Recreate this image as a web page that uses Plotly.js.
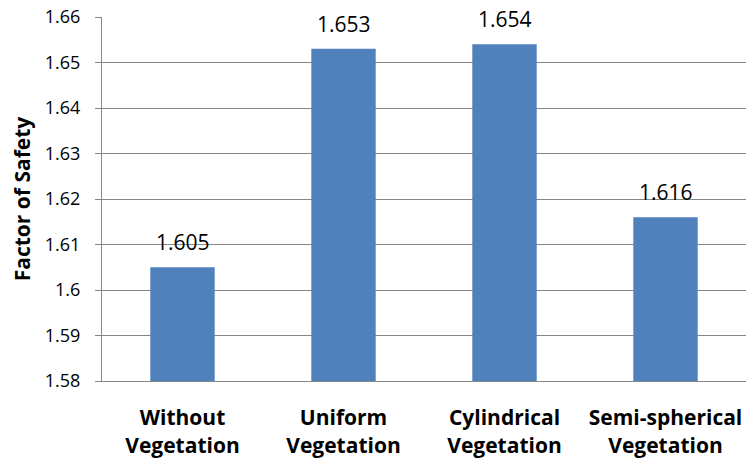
<!DOCTYPE html>
<html>
<head>
<meta charset="utf-8">
<script src="https://cdn.plot.ly/plotly-3.0.1.min.js"></script>
<style>
  html, body { margin: 0; padding: 0; background: #ffffff; }
  #chart { width: 746px; height: 461px; }
</style>
</head>
<body>
<div id="chart"></div>
<script>
// Factor of safety for each vegetation case
const categories = ["Without<br>Vegetation", "Uniform<br>Vegetation", "Cylindrical<br>Vegetation", "Semi-spherical<br>Vegetation"];
const factorOfSafety = [1.605, 1.653, 1.654, 1.616];
const valueLabels = ["1.605", "1.653", "1.654", "1.616"];
const yTickValues = [1.58, 1.59, 1.6, 1.61, 1.62, 1.63, 1.64, 1.65, 1.66];
const yTickLabels = ["1.58", "1.59", "1.6", "1.61", "1.62", "1.63", "1.64", "1.65", "1.66"];
const axisFloor = 1.58;

const fontFamily = "'Open Sans', 'Liberation Sans', sans-serif";

// bars start at the bottom of the value axis
const trace = {
  type: "bar",
  x: categories,
  y: factorOfSafety.map(v => v - axisFloor),
  base: axisFloor,
  marker: { color: "#4f81bd", line: { width: 0 } },
  hoverinfo: "skip"
};

// value labels sitting above each bar
const valueAnnotations = categories.map((c, i) => ({
  x: c,
  y: factorOfSafety[i],
  xref: "x",
  yref: "y",
  text: valueLabels[i],
  showarrow: false,
  yanchor: "bottom",
  yshift: 9,
  font: { family: fontFamily, size: 21, color: "#000000" }
}));

const layout = {
  width: 746,
  height: 461,
  margin: { l: 102, r: 0, t: 17, b: 80 },
  paper_bgcolor: "#ffffff",
  plot_bgcolor: "#ffffff",
  showlegend: false,
  bargap: 0.6,
  annotations: valueAnnotations,
  xaxis: {
    type: "category",
    showgrid: false,
    showline: true,
    linecolor: "#868686",
    linewidth: 1,
    ticks: "",
    ticklabelstandoff: 18,
    tickfont: { family: fontFamily, size: 21, color: "#000000", weight: "bold" },
    fixedrange: true
  },
  yaxis: {
    range: [1.58, 1.66],
    tickvals: yTickValues,
    ticktext: yTickLabels,
    showgrid: true,
    gridcolor: "#868686",
    gridwidth: 1,
    zeroline: false,
    showline: true,
    linecolor: "#868686",
    linewidth: 1,
    ticks: "outside",
    ticklen: 6,
    tickcolor: "#868686",
    ticklabelstandoff: 11,
    tickfont: { family: fontFamily, size: 18, color: "#000000" },
    title: {
      text: "Factor of Safety",
      font: { family: fontFamily, size: 21, color: "#000000", weight: "bold" },
      standoff: 8
    },
    fixedrange: true
  }
};

Plotly.newPlot("chart", [trace], layout, { displayModeBar: false, staticPlot: true });
</script>
</body>
</html>
